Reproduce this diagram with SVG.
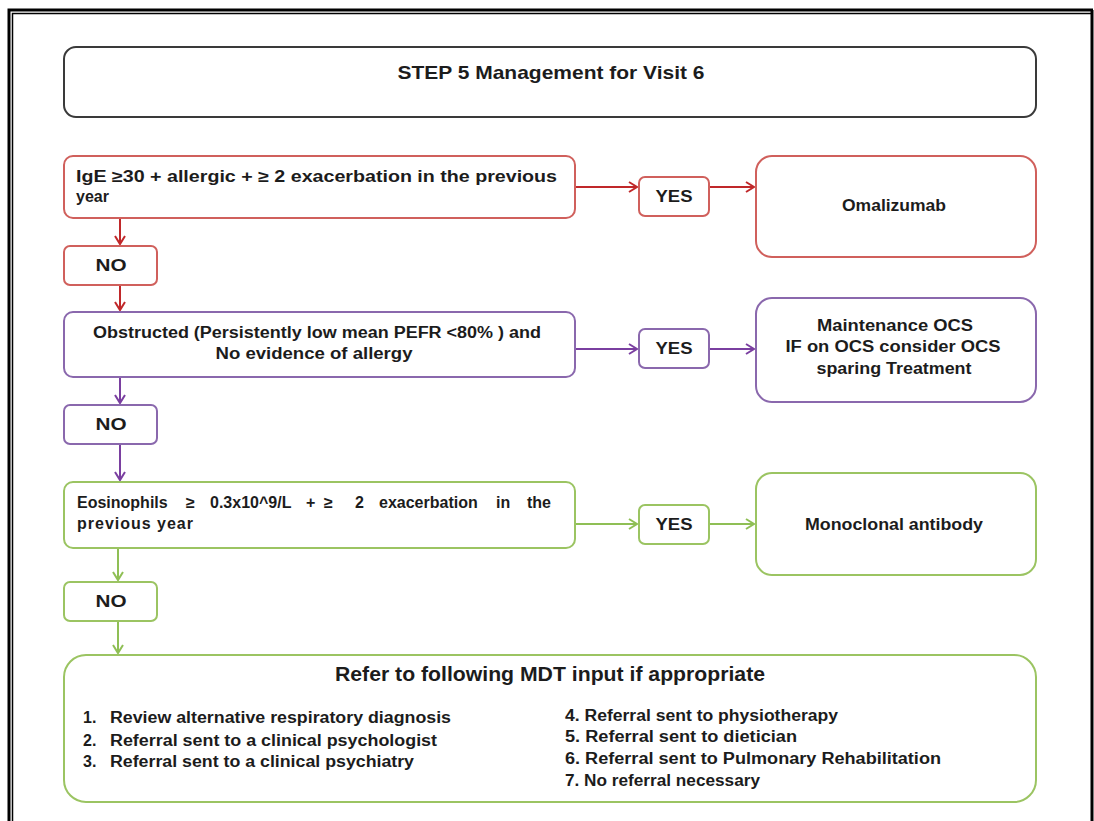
<svg xmlns="http://www.w3.org/2000/svg" width="1094" height="821" viewBox="0 0 1094 821">
<defs>
<style>
text{font-family:"Liberation Sans",Arial,sans-serif;font-weight:bold;fill:#1c1c1c;font-size:16px}
.c{text-anchor:middle}
.box{fill:#fff;stroke-width:2}
.red{stroke:#d0605c}
.pur{stroke:#8a68ad}
.grn{stroke:#9bc462}
.ar{fill:none;stroke-width:2}
.ared{stroke:#c0282a}
.apur{stroke:#7a3fa0}
.agrn{stroke:#8fbf55}
.ttl{font-size:20px}
.li{font-size:16px}
</style>
<marker id="mr" markerWidth="12" markerHeight="12" refX="10" refY="6" orient="auto" markerUnits="userSpaceOnUse"><path d="M2,1 L10,6 L2,11" fill="none" stroke="#c0282a" stroke-width="2"/></marker>
<marker id="mp" markerWidth="12" markerHeight="12" refX="10" refY="6" orient="auto" markerUnits="userSpaceOnUse"><path d="M2,1 L10,6 L2,11" fill="none" stroke="#7a3fa0" stroke-width="2"/></marker>
<marker id="mg" markerWidth="12" markerHeight="12" refX="10" refY="6" orient="auto" markerUnits="userSpaceOnUse"><path d="M2,1 L10,6 L2,11" fill="none" stroke="#8fbf55" stroke-width="2"/></marker>
</defs>
<rect width="1094" height="821" fill="#fff"/>
<g id="frame" fill="none" stroke="#000">
<path d="M9,825 V10 H1093" stroke-width="3"/>
<path d="M12.5,825 V13.5 H1092" stroke-width="1.5"/>
<path d="M1092,10 V825" stroke-width="3"/>
</g>
<g id="title">
<rect x="64" y="47" width="972" height="70" rx="12" fill="#fff" stroke="#3a3a3a" stroke-width="2"/>
<text x="551" y="79" class="c" style="font-size:19px" textLength="307" lengthAdjust="spacingAndGlyphs">STEP  5 Management for Visit 6</text>
</g>
<g id="connectors">
<path class="ar ared" d="M575,187 H637" marker-end="url(#mr)"/>
<path class="ar ared" d="M709,187 H754" marker-end="url(#mr)"/>
<path class="ar ared" d="M120,218 V244" marker-end="url(#mr)"/>
<path class="ar ared" d="M120,285 V310" marker-end="url(#mr)"/>
<path class="ar apur" d="M575,349 H637" marker-end="url(#mp)"/>
<path class="ar apur" d="M709,349 H754" marker-end="url(#mp)"/>
<path class="ar apur" d="M120,377 V403" marker-end="url(#mp)"/>
<path class="ar apur" d="M120,444 V480" marker-end="url(#mp)"/>
<path class="ar agrn" d="M575,524 H637" marker-end="url(#mg)"/>
<path class="ar agrn" d="M709,524 H754" marker-end="url(#mg)"/>
<path class="ar agrn" d="M118,548 V580" marker-end="url(#mg)"/>
<path class="ar agrn" d="M118,621 V653" marker-end="url(#mg)"/>
</g>
<g id="q1">
<rect class="box red" x="64" y="156" width="511" height="62" rx="9"/>
<text x="76" y="182" textLength="481" lengthAdjust="spacingAndGlyphs">IgE ≥30  + allergic   + ≥ 2 exacerbation in the previous</text>
<text x="76" y="202">year</text>
</g>
<g id="yes1">
<rect class="box red" x="639" y="177" width="70" height="39" rx="6"/>
<text x="674" y="202" class="c" textLength="37" lengthAdjust="spacingAndGlyphs">YES</text>
</g>
<g id="omalizumab">
<rect class="box red" x="756" y="156" width="280" height="101" rx="16"/>
<text x="894" y="211" class="c" textLength="104" lengthAdjust="spacingAndGlyphs">Omalizumab</text>
</g>
<g id="no1">
<rect class="box red" x="64" y="246" width="93" height="39" rx="6"/>
<text x="111" y="271" class="c" textLength="31" lengthAdjust="spacingAndGlyphs">NO</text>
</g>
<g id="q2">
<rect class="box pur" x="64" y="312" width="511" height="65" rx="9"/>
<text x="317" y="338" class="c" textLength="448" lengthAdjust="spacingAndGlyphs">Obstructed (Persistently  low  mean PEFR &lt;80% ) and</text>
<text x="314" y="359" class="c" textLength="197" lengthAdjust="spacingAndGlyphs">No evidence of  allergy</text>
</g>
<g id="yes2">
<rect class="box pur" x="639" y="329" width="70" height="39" rx="6"/>
<text x="674" y="354" class="c" textLength="37" lengthAdjust="spacingAndGlyphs">YES</text>
</g>
<g id="ocs">
<rect class="box pur" x="756" y="298" width="280" height="104" rx="16"/>
<text x="895" y="331" class="c" textLength="156" lengthAdjust="spacingAndGlyphs">Maintenance  OCS</text>
<text x="893" y="352" class="c" textLength="215" lengthAdjust="spacingAndGlyphs">IF on OCS consider  OCS</text>
<text x="894" y="374" class="c" textLength="155" lengthAdjust="spacingAndGlyphs">sparing  Treatment</text>
</g>
<g id="no2">
<rect class="box pur" x="64" y="405" width="93" height="39" rx="6"/>
<text x="111" y="430" class="c" textLength="31" lengthAdjust="spacingAndGlyphs">NO</text>
</g>
<g id="q3">
<rect class="box grn" x="64" y="482" width="511" height="66" rx="9"/>
<text y="508"><tspan x="77">Eosinophils</tspan><tspan x="186">≥</tspan><tspan x="210">0.3x10^9/L</tspan><tspan x="306">+</tspan><tspan x="324">≥</tspan><tspan x="355">2</tspan><tspan x="379">exacerbation</tspan><tspan x="496">in</tspan><tspan x="527">the</tspan></text>
<text x="77" y="529" textLength="116" lengthAdjust="spacing">previous  year</text>
</g>
<g id="yes3">
<rect class="box grn" x="639" y="505" width="70" height="39" rx="6"/>
<text x="674" y="530" class="c" textLength="37" lengthAdjust="spacingAndGlyphs">YES</text>
</g>
<g id="monoclonal">
<rect class="box grn" x="756" y="473" width="280" height="102" rx="16"/>
<text x="894" y="530" class="c" textLength="178" lengthAdjust="spacingAndGlyphs">Monoclonal antibody</text>
</g>
<g id="no3">
<rect class="box grn" x="64" y="582" width="93" height="39" rx="6"/>
<text x="111" y="607" class="c" textLength="31" lengthAdjust="spacingAndGlyphs">NO</text>
</g>
<g id="mdt">
<rect class="box grn" x="64" y="655" width="972" height="147" rx="22"/>
<text x="550" y="681" class="c ttl" textLength="430" lengthAdjust="spacingAndGlyphs">Refer to following MDT input if appropriate</text>
<text x="83" y="723" class="li">1.</text>
<text x="110" y="723" class="li" textLength="341" lengthAdjust="spacingAndGlyphs">Review  alternative respiratory  diagnosis</text>
<text x="83" y="746" class="li">2.</text>
<text x="110" y="746" class="li" textLength="327" lengthAdjust="spacingAndGlyphs">Referral sent  to a clinical  psychologist</text>
<text x="83" y="767" class="li">3.</text>
<text x="110" y="767" class="li" textLength="304" lengthAdjust="spacingAndGlyphs">Referral sent  to a clinical  psychiatry</text>
<text x="565" y="721" class="li" textLength="273" lengthAdjust="spacingAndGlyphs">4. Referral sent  to physiotherapy</text>
<text x="565" y="742" class="li" textLength="232" lengthAdjust="spacingAndGlyphs">5. Referral sent  to dietician</text>
<text x="565" y="764" class="li" textLength="376" lengthAdjust="spacingAndGlyphs">6. Referral sent  to Pulmonary  Rehabilitation</text>
<text x="565" y="786" class="li" textLength="195" lengthAdjust="spacingAndGlyphs">7. No referral  necessary</text>
</g>
</svg>
